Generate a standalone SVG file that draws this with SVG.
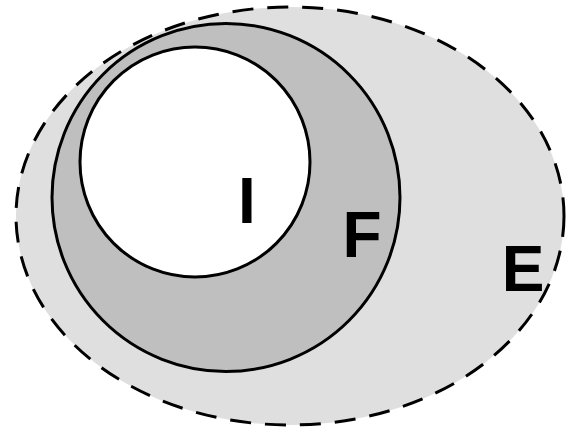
<svg xmlns="http://www.w3.org/2000/svg" width="566" height="430" viewBox="0 0 566 430">
<style>
.lbl{font-family:"Liberation Sans",Arial,sans-serif;font-weight:bold;font-size:64px;fill:#000;text-anchor:middle}
.solid{stroke:#000;stroke-width:3}
</style>
<rect width="566" height="430" fill="#fff"/>
<g id="E">
<ellipse cx="290" cy="216" rx="274" ry="209" fill="#dfdfdf" stroke="#000" stroke-width="3" stroke-dasharray="21 14"/>
<text class="lbl" x="523" y="291">E</text>
</g>
<g id="F">
<circle class="solid" cx="226" cy="197.5" r="174" fill="#bfbfbf"/>
<text class="lbl" x="362" y="257">F</text>
</g>
<g id="I">
<circle class="solid" cx="195" cy="162" r="115" fill="#fff"/>
<text class="lbl" x="247" y="223">I</text>
</g>
<g id="connectors"/>
</svg>
